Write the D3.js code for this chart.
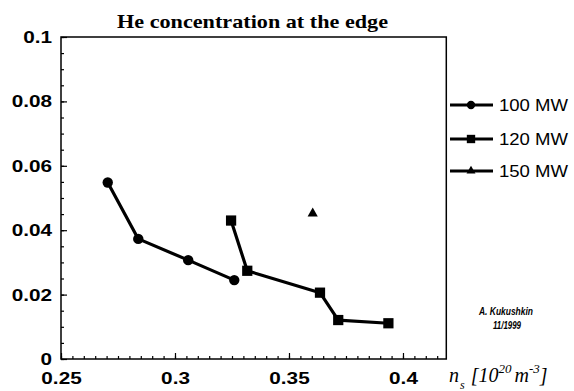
<!DOCTYPE html>
<html>
<head>
<meta charset="utf-8">
<script src="https://cdn.jsdelivr.net/npm/d3@7"></script>
<style>
  html, body { margin: 0; padding: 0; background: #fff; }
  svg { display: block; }
</style>
</head>
<body>
<svg id="chart" width="574" height="391"></svg>
<script>
// ---- data ----
const series100_x = [0.2705, 0.2839, 0.3058, 0.3260];
const series100_y = [0.0548, 0.0373, 0.0307, 0.0245];
const series120_x = [0.3246, 0.3317, 0.3636, 0.3716, 0.3936];
const series120_y = [0.0430, 0.0274, 0.0206, 0.0121, 0.0111];
const series150_x = [0.3604];
const series150_y = [0.0452];
const seriesNames = ["100 MW", "120 MW", "150 MW"];
const xTickLabels = [0.25, 0.3, 0.35, 0.4];
const yTickLabels = [0, 0.02, 0.04, 0.06, 0.08, 0.1];

const svg = d3.select("#chart");
const x = d3.scaleLinear().domain([0.25, 0.419]).range([61, 446.3]);
const y = d3.scaleLinear().domain([0, 0.1]).range([359, 37]);

const fmt = d => (d === 0 ? "0" : String(d));
const sansFont = "'Liberation Sans', Arial, Helvetica, sans-serif";

// frame
svg.append("rect")
  .attr("x", x.range()[0]).attr("y", y.range()[1])
  .attr("width", x.range()[1] - x.range()[0])
  .attr("height", y.range()[0] - y.range()[1])
  .attr("fill", "none").attr("stroke", "#000").attr("stroke-width", 1.5);

// minor ticks
const xMinor = d3.range(0, 34).map(i => +(0.25 + i * 0.005).toFixed(4)).filter(v => v <= 0.419);
const yMinor = d3.range(0, 21).map(i => +(i * 0.005).toFixed(4));

const gxMinor = svg.append("g").attr("transform", `translate(0,${y.range()[0]})`)
  .call(d3.axisBottom(x).tickValues(xMinor).tickSize(-3).tickFormat(""));
const gyMinor = svg.append("g").attr("transform", `translate(${x.range()[0]},0)`)
  .call(d3.axisLeft(y).tickValues(yMinor).tickSize(-3).tickFormat(""));

const gx = svg.append("g").attr("transform", `translate(0,${y.range()[0]})`)
  .call(d3.axisBottom(x).tickValues(xTickLabels).tickSize(-6).tickPadding(13).tickFormat(fmt));
const gy = svg.append("g").attr("transform", `translate(${x.range()[0]},0)`)
  .call(d3.axisLeft(y).tickValues(yTickLabels).tickSize(-6).tickPadding(9).tickFormat(fmt));

[gxMinor, gyMinor, gx, gy].forEach(g => {
  g.select(".domain").remove();
  g.selectAll("line").attr("stroke", "#000").attr("stroke-width", 1.2);
});
[gx, gy].forEach(g => {
  g.selectAll("text")
    .attr("font-family", sansFont)
    .attr("font-size", 17)
    .attr("font-weight", "bold")
    .attr("fill", "#000")
    .each(function() {
      const w = this.getComputedTextLength();
      d3.select(this).attr("textLength", w * 1.22).attr("lengthAdjust", "spacingAndGlyphs");
    });
});

// lines
const line = d3.line().x(d => x(d[0])).y(d => y(d[1]));
const d100 = series100_x.map((v, i) => [v, series100_y[i]]);
const d120 = series120_x.map((v, i) => [v, series120_y[i]]);
const d150 = series150_x.map((v, i) => [v, series150_y[i]]);

[d100, d120].forEach(d => {
  svg.append("path").datum(d).attr("d", line)
    .attr("fill", "none").attr("stroke", "#000").attr("stroke-width", 3.2)
    .attr("stroke-linejoin", "round");
});

const circleSym = d3.symbol().type(d3.symbolCircle);
const squareSym = d3.symbol().type(d3.symbolSquare);
const triSym = d3.symbol().type(d3.symbolTriangle);

svg.append("g").selectAll("path").data(d100).join("path")
  .attr("transform", d => `translate(${x(d[0])},${y(d[1])})`)
  .attr("d", circleSym.size(85)()).attr("fill", "#000");
svg.append("g").selectAll("path").data(d120).join("path")
  .attr("transform", d => `translate(${x(d[0])},${y(d[1])})`)
  .attr("d", squareSym.size(105)()).attr("fill", "#000");
svg.append("g").selectAll("path").data(d150).join("path")
  .attr("transform", d => `translate(${x(d[0])},${y(d[1])})`)
  .attr("d", triSym.size(45)()).attr("fill", "#000");

// legend
const legendY = [105, 139, 171];
const legendSyms = [circleSym.size(55)(), squareSym.size(70)(), triSym.size(35)()];
const lg = svg.append("g");
seriesNames.forEach((name, i) => {
  const row = lg.append("g").attr("transform", `translate(0,${legendY[i]})`);
  row.append("line").attr("x1", 450).attr("x2", 493).attr("y1", 0).attr("y2", 0)
    .attr("stroke", "#000").attr("stroke-width", 3);
  row.append("path").attr("d", legendSyms[i]).attr("transform", "translate(471,0)").attr("fill", "#000");
  row.append("text").attr("x", 499).attr("y", 6)
    .attr("font-family", sansFont).attr("font-size", 16).attr("fill", "#000")
    .text(name)
    .attr("textLength", 69).attr("lengthAdjust", "spacingAndGlyphs");
});

// title
svg.append("text").attr("x", 252.5).attr("y", 28).attr("text-anchor", "middle")
  .attr("font-family", "'Liberation Serif', 'Times New Roman', serif")
  .attr("font-weight", "bold").attr("font-size", 19).attr("fill", "#000")
  .attr("textLength", 271).attr("lengthAdjust", "spacingAndGlyphs")
  .text("He concentration at the edge");

// annotation
svg.append("text").attr("x", 506).attr("y", 315).attr("text-anchor", "middle")
  .attr("font-family", sansFont).attr("font-style", "italic").attr("font-weight", "bold")
  .attr("font-size", 10)
  .attr("textLength", 54).attr("lengthAdjust", "spacingAndGlyphs")
  .text("A. Kukushkin");
svg.append("text").attr("x", 507).attr("y", 329).attr("text-anchor", "middle")
  .attr("font-family", sansFont).attr("font-style", "italic").attr("font-weight", "bold")
  .attr("font-size", 10)
  .attr("textLength", 28).attr("lengthAdjust", "spacingAndGlyphs")
  .text("11/1999");

// x axis label
const xl = svg.append("text").attr("x", 449).attr("y", 382)
  .attr("font-family", "'Liberation Serif', 'Times New Roman', serif")
  .attr("font-style", "italic").attr("font-size", 20).attr("fill", "#000");
xl.append("tspan").text("n");
xl.append("tspan").attr("font-size", 12).attr("dy", 7).attr("dx", 1).text("s");
xl.append("tspan").attr("dy", -7).attr("dx", 6).text("[10");
xl.append("tspan").attr("font-size", 13).attr("dy", -9).text("20");
xl.append("tspan").attr("dy", 9).attr("dx", 3).text("m");
xl.append("tspan").attr("font-size", 13).attr("dy", -9).text("-3");
xl.append("tspan").attr("dy", 9).text("]");
</script>
</body>
</html>
